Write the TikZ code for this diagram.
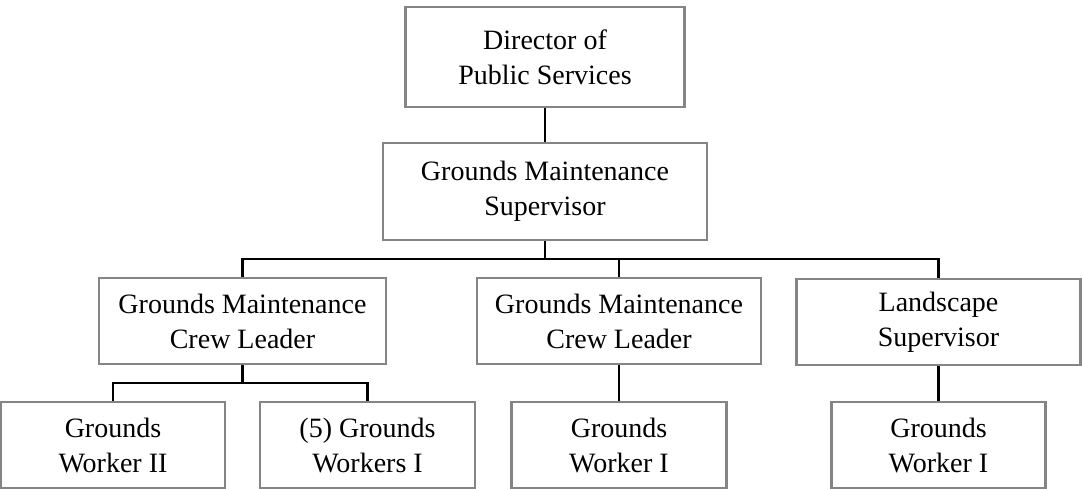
\documentclass[tikz,border=0pt]{standalone}
\usepackage{fontspec}
\setmainfont{Liberation Serif}
\usepackage{tikz}
\usetikzlibrary{calc}

\begin{document}
\begin{tikzpicture}[x=1pt, y=-1pt,
		post/.style={draw=black!48, line width=2.5pt, align=center, inner sep=0pt,
			font=\fontsize{28}{35}\selectfont},
		link/.style={line width=2.5pt, color=black}]
		%%%%% START %%%%%
		
		\useasboundingbox (0, 0) rectangle (1083, 489);
		
		\node[post, minimum width=279pt, minimum height=100pt] (dir) at (545, 57) {Director of\\Public Services};
		\node[post, minimum width=324pt, minimum height=97pt] (gms) at (545, 191.5) {Grounds Maintenance\\Supervisor};
		
		\node[post, minimum width=287pt, minimum height=86pt] (cl1) at (242.5, 321) {Grounds Maintenance\\Crew Leader};
		\node[post, minimum width=284pt, minimum height=86pt] (cl2) at (619, 321) {Grounds Maintenance\\Crew Leader};
		\node[post, minimum width=284pt, minimum height=86pt] (ls) at (938.5, 322) {Landscape\\Supervisor};
		
		\node[post, minimum width=224pt, minimum height=86pt] (gw2) at (113, 445) {Grounds\\Worker II};
		\node[post, minimum width=215pt, minimum height=86pt] (gw5) at (367.5, 445) {(5) Grounds\\Workers I};
		\node[post, minimum width=215pt, minimum height=86pt] (gw1a) at (619, 445) {Grounds\\Worker I};
		\node[post, minimum width=214pt, minimum height=86pt] (gw1b) at (938.5, 445) {Grounds\\Worker I};
		
		\coordinate (busA) at (0, 259);
		\coordinate (busB) at (0, 383);
		
		\draw[link] (dir) -- (gms);
		\draw[link] (gms.south) -- (gms.south |- busA);
		\draw[link] (cl1.north) -- (cl1.north |- busA) -- (ls.north |- busA) -- (ls.north);
		\draw[link] (cl2.north) -- (cl2.north |- busA);
		
		\draw[link] (cl1.south) -- (cl1.south |- busB);
		\draw[link] (gw2.north) -- (gw2.north |- busB) -- (gw5.north |- busB) -- (gw5.north);
		\draw[link] (cl2) -- (gw1a);
		\draw[link] (ls) -- (gw1b);
		
		%%%%% END %%%%%
	\end{tikzpicture}
\end{document}
